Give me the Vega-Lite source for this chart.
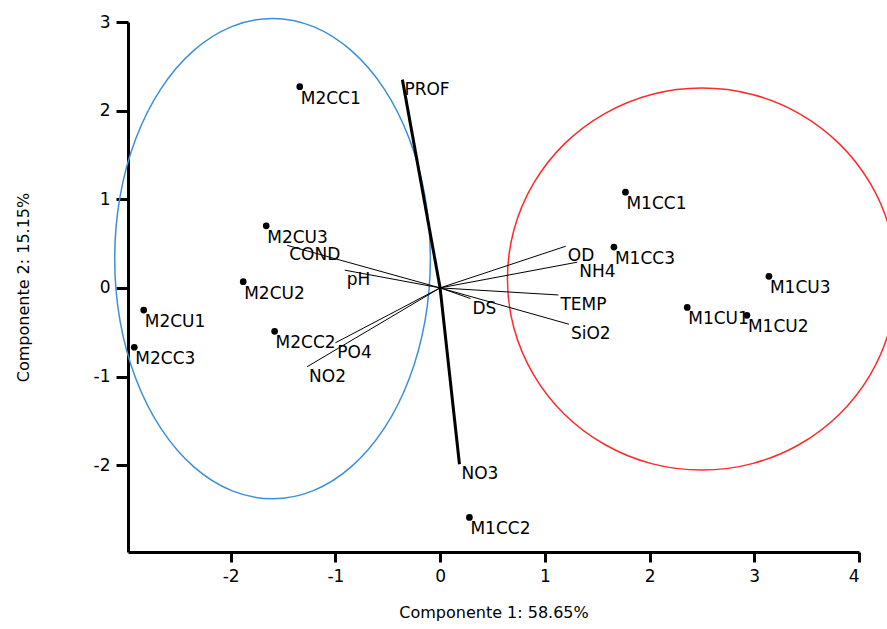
{
  "$schema": "https://vega.github.io/schema/vega-lite/v6.json",
  "width": 731,
  "height": 530,
  "autosize": {"type": "none"},
  "padding": {"left": 128, "top": 22, "right": 28, "bottom": 77},
  "background": "white",
  "config": {
    "view": {"stroke": null},
    "font": "DejaVu Sans",
    "axis": {
      "grid": false,
      "domainColor": "black",
      "domainWidth": 3,
      "tickColor": "black",
      "tickWidth": 3,
      "labelColor": "black",
      "labelFontSize": 17,
      "labelFont": "DejaVu Sans",
      "titleFont": "DejaVu Sans",
      "titleFontSize": 16,
      "titleFontWeight": "normal",
      "titleColor": "black"
    }
  },
  "datasets": {
    "obs": [
      {"name": "M2CC1", "x": -1.34, "y": 2.27},
      {"name": "M2CU3", "x": -1.66, "y": 0.70},
      {"name": "M2CU2", "x": -1.88, "y": 0.07},
      {"name": "M2CU1", "x": -2.83, "y": -0.25},
      {"name": "M2CC3", "x": -2.92, "y": -0.67},
      {"name": "M2CC2", "x": -1.58, "y": -0.49},
      {"name": "M1CC1", "x": 1.77, "y": 1.08},
      {"name": "M1CC3", "x": 1.66, "y": 0.46},
      {"name": "M1CU3", "x": 3.14, "y": 0.13},
      {"name": "M1CU1", "x": 2.36, "y": -0.22},
      {"name": "M1CU2", "x": 2.93, "y": -0.31},
      {"name": "M1CC2", "x": 0.28, "y": -2.59}
    ],
    "vars": [
      {"name": "PROF", "x": -0.36, "y": 2.35, "kind": "thick"},
      {"name": "NO3", "x": 0.185, "y": -1.99, "kind": "thick"},
      {"name": "COND", "x": -1.46, "y": 0.48, "kind": "thin"},
      {"name": "pH", "x": -0.91, "y": 0.20, "kind": "thin"},
      {"name": "OD", "x": 1.20, "y": 0.47, "kind": "thin"},
      {"name": "NH4", "x": 1.31, "y": 0.29, "kind": "thin"},
      {"name": "TEMP", "x": 1.13, "y": -0.08, "kind": "thin"},
      {"name": "SiO2", "x": 1.23, "y": -0.41, "kind": "thin"},
      {"name": "DS", "x": 0.29, "y": -0.12, "kind": "thin"},
      {"name": "PO4", "x": -1.00, "y": -0.62, "kind": "thin"},
      {"name": "NO2", "x": -1.27, "y": -0.89, "kind": "thin"}
    ],
    "ell": [
      {"g": "blue", "o": 0, "x": -0.093, "y": 0.33},
      {"g": "blue", "o": 1, "x": -0.144, "y": 1.031},
      {"g": "blue", "o": 2, "x": -0.295, "y": 1.685},
      {"g": "blue", "o": 3, "x": -0.534, "y": 2.246},
      {"g": "blue", "o": 4, "x": -0.847, "y": 2.677},
      {"g": "blue", "o": 5, "x": -1.210, "y": 2.948},
      {"g": "blue", "o": 6, "x": -1.600, "y": 3.040},
      {"g": "blue", "o": 7, "x": -1.990, "y": 2.948},
      {"g": "blue", "o": 8, "x": -2.354, "y": 2.677},
      {"g": "blue", "o": 9, "x": -2.666, "y": 2.246},
      {"g": "blue", "o": 10, "x": -2.905, "y": 1.685},
      {"g": "blue", "o": 11, "x": -3.056, "y": 1.031},
      {"g": "blue", "o": 12, "x": -3.107, "y": 0.33},
      {"g": "blue", "o": 13, "x": -3.056, "y": -0.371},
      {"g": "blue", "o": 14, "x": -2.905, "y": -1.025},
      {"g": "blue", "o": 15, "x": -2.666, "y": -1.586},
      {"g": "blue", "o": 16, "x": -2.354, "y": -2.017},
      {"g": "blue", "o": 17, "x": -1.990, "y": -2.288},
      {"g": "blue", "o": 18, "x": -1.600, "y": -2.380},
      {"g": "blue", "o": 19, "x": -1.210, "y": -2.288},
      {"g": "blue", "o": 20, "x": -0.847, "y": -2.017},
      {"g": "blue", "o": 21, "x": -0.534, "y": -1.586},
      {"g": "blue", "o": 22, "x": -0.295, "y": -1.025},
      {"g": "blue", "o": 23, "x": -0.144, "y": -0.371},
      {"g": "red", "o": 0, "x": 4.357, "y": 0.10},
      {"g": "red", "o": 1, "x": 4.294, "y": 0.658},
      {"g": "red", "o": 2, "x": 4.108, "y": 1.178},
      {"g": "red", "o": 3, "x": 3.813, "y": 1.625},
      {"g": "red", "o": 4, "x": 3.429, "y": 1.967},
      {"g": "red", "o": 5, "x": 2.981, "y": 2.183},
      {"g": "red", "o": 6, "x": 2.500, "y": 2.256},
      {"g": "red", "o": 7, "x": 2.019, "y": 2.183},
      {"g": "red", "o": 8, "x": 1.572, "y": 1.967},
      {"g": "red", "o": 9, "x": 1.187, "y": 1.625},
      {"g": "red", "o": 10, "x": 0.892, "y": 1.178},
      {"g": "red", "o": 11, "x": 0.706, "y": 0.658},
      {"g": "red", "o": 12, "x": 0.643, "y": 0.10},
      {"g": "red", "o": 13, "x": 0.706, "y": -0.458},
      {"g": "red", "o": 14, "x": 0.892, "y": -0.978},
      {"g": "red", "o": 15, "x": 1.187, "y": -1.425},
      {"g": "red", "o": 16, "x": 1.572, "y": -1.767},
      {"g": "red", "o": 17, "x": 2.019, "y": -1.983},
      {"g": "red", "o": 18, "x": 2.500, "y": -2.056},
      {"g": "red", "o": 19, "x": 2.981, "y": -1.983},
      {"g": "red", "o": 20, "x": 3.429, "y": -1.767},
      {"g": "red", "o": 21, "x": 3.813, "y": -1.425},
      {"g": "red", "o": 22, "x": 4.108, "y": -0.978},
      {"g": "red", "o": 23, "x": 4.294, "y": -0.458}
    ]
  },
  "encoding": {
    "x": {
      "field": "x", "type": "quantitative",
      "scale": {"domain": [-2.98, 4], "nice": false, "zero": false},
      "axis": {
        "values": [-2, -1, 0, 1, 2, 3, 4],
        "tickSize": 10,
        "labelPadding": 6,
        "title": "Componente 1: 58.65%",
        "titlePadding": 20,
        "labelExpr": "replace(datum.label, '−', '-')"
      }
    },
    "y": {
      "field": "y", "type": "quantitative",
      "scale": {"domain": [-2.98, 3], "nice": false, "zero": false},
      "axis": {
        "values": [-2, -1, 0, 1, 2, 3],
        "tickSize": 12,
        "labelPadding": 6,
        "title": "Componente 2: 15.15%",
        "titlePadding": 62,
        "labelExpr": "replace(datum.label, '−', '-')"
      }
    }
  },
  "layer": [
    {
      "data": {"name": "ell"},
      "mark": {"type": "line", "interpolate": "cardinal-closed", "strokeWidth": 1.5, "clip": false},
      "encoding": {
        "order": {"field": "o"},
        "color": {"field": "g", "type": "nominal", "scale": {"domain": ["blue", "red"], "range": ["#3d8fd8", "#ff2a2a"]}, "legend": null}
      }
    },
    {
      "data": {"name": "vars"},
      "transform": [{"filter": "datum.kind == 'thin'"}],
      "mark": {"type": "rule", "color": "black", "strokeWidth": 1},
      "encoding": {
        "x2": {"datum": 0},
        "y2": {"datum": 0}
      }
    },
    {
      "data": {"name": "vars"},
      "transform": [{"filter": "datum.kind == 'thick'"}],
      "mark": {"type": "rule", "color": "black", "strokeWidth": 3},
      "encoding": {
        "x2": {"datum": 0},
        "y2": {"datum": 0}
      }
    },
    {
      "data": {"name": "vars"},
      "mark": {"type": "text", "align": "left", "baseline": "top", "dx": 2, "dy": 2, "fontSize": 17, "color": "black"},
      "encoding": {"text": {"field": "name"}}
    },
    {
      "data": {"name": "obs"},
      "mark": {"type": "point", "shape": "circle", "filled": true, "size": 45, "color": "black", "opacity": 1},
      "encoding": {}
    },
    {
      "data": {"name": "obs"},
      "mark": {"type": "text", "align": "left", "baseline": "top", "dx": 1, "dy": 4, "fontSize": 17, "color": "black"},
      "encoding": {"text": {"field": "name"}}
    }
  ]
}
